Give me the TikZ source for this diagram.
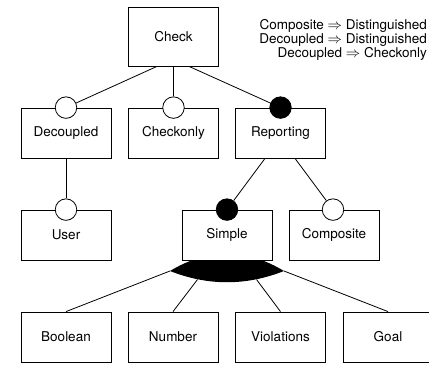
\documentclass[tikz,border=0pt]{standalone}
\usepackage{fontspec}
\setmainfont{TeX Gyre Heros}
\usetikzlibrary{backgrounds}
\begin{document}
\begin{tikzpicture}[x=1pt,y=-1pt,
  every node/.style={font=\fontsize{13.5}{14}\selectfont},
  feature/.style={draw, line width=0.8pt, fill=white, minimum width=90pt,
                  minimum height=50pt, inner sep=0pt},
  optmark/.style={circle, draw, line width=0.8pt, fill=white,
                  minimum size=21.5pt, inner sep=0pt},
  mandmark/.style={optmark, fill=black},
  edge/.style={line width=0.8pt},
  rule/.style={anchor=base east, inner sep=0pt, text height=9.5pt, text depth=2.5pt}]
\useasboundingbox (0,0) rectangle (429,366);
\clip (0,0) rectangle (429,366);

% features
\node[feature, minimum height=59pt] (check) at (173.5,36.5) {Check};
\node[feature] (decoupled) at (66,133)    {Decoupled};
\node[feature] (checkonly) at (173.5,133) {Checkonly};
\node[feature] (reporting) at (280.5,133) {Reporting};
\node[feature] (user)      at (66,235)    {User};
\node[feature] (simple)    at (227,235)   {Simple};
\node[feature] (composite) at (334,235)   {Composite};
\node[feature] (boolean)   at (66,337)    {Boolean};
\node[feature] (number)    at (173,337)   {Number};
\node[feature] (violations) at (280.5,337) {Violations};
\node[feature] (goal)      at (388,337)   {Goal};

% optional / mandatory markers
\node[optmark]  (m-dec) at (decoupled.north) {};
\node[optmark]  (m-cho) at (checkonly.north) {};
\node[mandmark] (m-rep) at (reporting.north) {};
\node[optmark]  (m-usr) at (user.north) {};
\node[mandmark] (m-sim) at (simple.north) {};
\node[optmark]  (m-com) at ([xshift=-1pt]composite.north) {};

% parent-child links
\draw[edge] ([xshift=-16.5pt]check.south) -- (m-dec);
\draw[edge] (check.south) -- (m-cho);
\draw[edge] ([xshift=15.5pt]check.south) -- (m-rep);
\draw[edge] (decoupled.south) -- (m-usr);
\draw[edge] ([xshift=-15.5pt]reporting.south) -- (m-sim);
\draw[edge] ([xshift=14.5pt]reporting.south) -- (m-com);

% or-group under Simple
\coordinate (lensL) at (170,271);
\coordinate (lensR) at (284,271);
\coordinate (lensNum) at (197.5,279.5);
\coordinate (lensVio) at (256.5,279.5);
\begin{scope}[on background layer]
  \draw[edge] (boolean.north) -- (lensL);
  \draw[edge] (number.north) -- (lensNum);
  \draw[edge] (violations.north) -- (lensVio);
  \draw[edge] (goal.north) -- (lensR);
  \fill[black] (lensL) .. controls (208,286) and (246,286) .. (lensR)
               .. controls (246,248) and (208,248) .. (lensL) -- cycle;
\end{scope}

% constraints
\node[rule] (r1) at (427,30) {Composite $\Rightarrow$ Distinguished};
\node[rule] (r2) at (427,44) {Decoupled $\Rightarrow$ Distinguished};
\node[rule] (r3) at (427,58) {Decoupled $\Rightarrow$ Checkonly};
\end{tikzpicture}
\end{document}
